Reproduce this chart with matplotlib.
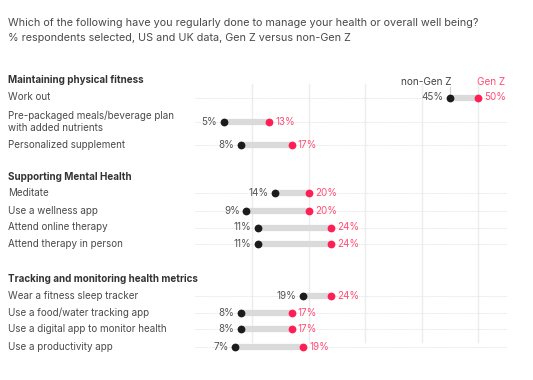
import matplotlib
matplotlib.use("Agg")
import matplotlib.pyplot as plt
import matplotlib.transforms as mtransforms

plt.rcParams['font.family'] = ['Inter', 'DejaVu Sans']

title = "Which of the following have you regularly done to manage your health or overall well being?"
subtitle = "% respondents selected, US and UK data, Gen Z versus non-Gen Z"

groups = ["Maintaining physical fitness", "Supporting Mental Health",
          "Tracking and monitoring health metrics"]
categories = [
    ["Work out", "Pre-packaged meals/beverage plan\nwith added nutrients", "Personalized supplement"],
    ["Meditate", "Use a wellness app", "Attend online therapy", "Attend therapy in person"],
    ["Wear a fitness sleep tracker", "Use a food/water tracking app",
     "Use a digital app to monitor health", "Use a productivity app"],
]
non_genz = [[45, 5, 8], [14, 9, 11, 11], [19, 8, 8, 7]]
genz = [[50, 13, 17], [20, 20, 24, 24], [24, 17, 17, 19]]
gridticks = [10, 20, 30, 40, 50]

# layout (pixel rows)
header_y = [80, 177, 279]
row_y = [[97.5, 122, 145], [193, 211, 227.5, 244], [296, 312.5, 329, 347]]

W, H = 533, 380
fig = plt.figure(figsize=(W / 100, H / 100), dpi=100)
ax = fig.add_axes([0, 0, 1, 1])
px0, pxscale = 195.5, 5.65
ax.set_xlim(-px0 / pxscale, (W - px0) / pxscale)
ax.set_ylim(H, 0)
ax.axis("off")

pink = "#ff1f55"
pink_txt = "#ff4f78"
dark = "#1c1c1c"
grey_txt = "#555555"
label_col = "#4a4a4a"

tx = mtransforms.blended_transform_factory(fig.transFigure, ax.transData)

fig.text(8 / W, 1 - 23 / H, title, fontsize=7.8, color=label_col, va="center")
fig.text(8 / W, 1 - 38 / H, subtitle, fontsize=7.8, color=label_col, va="center")

# vertical gridlines
for g in gridticks:
    ax.plot([g, g], [84, 342], color="#ececec", lw=1, zorder=0)

for gi, grp in enumerate(groups):
    ax.text(8 / W, header_y[gi], grp, transform=tx, fontsize=7.1, fontweight="bold",
            color="#333333", va="center")
    for ci, cat in enumerate(categories[gi]):
        y = row_y[gi][ci]
        a, b = non_genz[gi][ci], genz[gi][ci]
        ax.text(8 / W, y, cat, transform=tx, fontsize=7.1, color=label_col, va="center",
                linespacing=1.25)
        ax.plot([0, 55.2], [y, y], color="#dedede", lw=0.6, ls=(0, (1, 1)), zorder=0)
        ax.plot([a, b], [y, y], color="#dadada", lw=4.5, solid_capstyle="butt", zorder=1)
        ax.plot([a], [y], "o", color=dark, ms=5.6, zorder=3, mec="none")
        ax.plot([b], [y], "o", color=pink, ms=5.6, zorder=3, mec="none")
        ax.annotate(f"{a}%", (a, y), xytext=(-4.5, 0), textcoords="offset points",
                    ha="right", va="center", fontsize=7.1, color=grey_txt)
        ax.annotate(f"{b}%", (b, y), xytext=(4.5, 0), textcoords="offset points",
                    ha="left", va="center", fontsize=7.1, color=pink_txt)

# legend labels above the first row
a0, b0 = non_genz[0][0], genz[0][0]
ax.plot([a0, a0], [87, row_y[0][0]], color="#d0d0d0", lw=0.8, zorder=0)
ax.annotate("non-Gen Z", (a0, 82), xytext=(1, 0), textcoords="offset points",
            ha="right", va="center", fontsize=7.2, color="#444444")
ax.annotate("Gen Z", (b0, 82), xytext=(-0.5, 0), textcoords="offset points",
            ha="left", va="center", fontsize=7.2, color=pink_txt)

fig.savefig("out.png", dpi=100, facecolor="white")
